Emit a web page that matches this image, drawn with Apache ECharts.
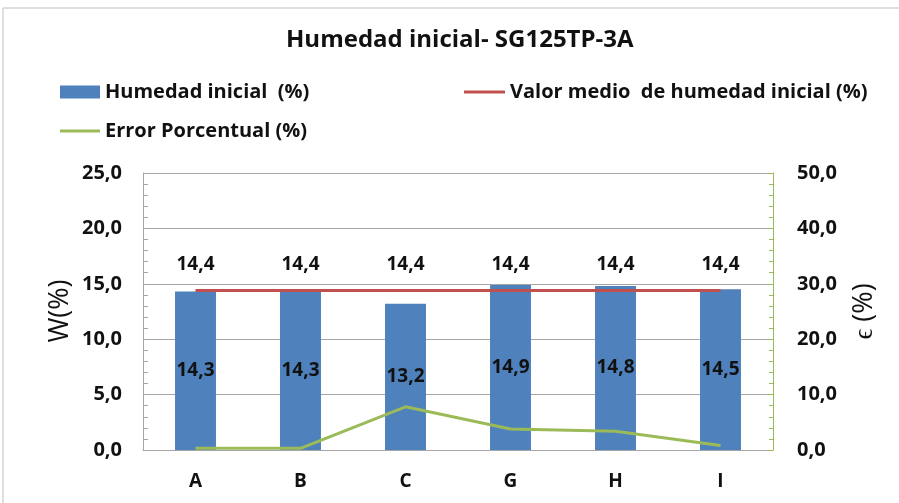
<!DOCTYPE html>
<html>
<head>
<meta charset="utf-8">
<script src="https://cdn.jsdelivr.net/npm/echarts@6/dist/echarts.min.js"></script>
<style>html,body{margin:0;padding:0;background:#fff}#c{width:899px;height:503px}</style>
</head>
<body>
<div id="c"></div>
<script>
const categories = ['A', 'B', 'C', 'G', 'H', 'I'];
const humedad = [14.3, 14.3, 13.2, 14.9, 14.8, 14.5];
const valorMedio = [14.4, 14.4, 14.4, 14.4, 14.4, 14.4];
const errorPct = [0.3, 0.3, 7.8, 3.8, 3.4, 0.8];
const leftTicks = { min: 0, max: 25, interval: 5 };
const rightTicks = { min: 0, max: 50, interval: 10 };
const leftAxisName = 'W(%)';
const rightAxisName = 'ϵ (%)';

const FONT = 'Open Sans';
const TXT = '#111';
const fmt = v => Number(v).toFixed(1).replace('.', ',');
const legendText = { fontFamily: FONT, fontSize: 20, fontWeight: 'bold', color: TXT, lineHeight: 22 };
const chart = echarts.init(document.getElementById('c'));
chart.setOption({
  backgroundColor: '#fff',
  animation: false,
  title: {
    text: 'Humedad inicial- SG125TP-3A',
    left: 286, top: 26, padding: 0,
    textStyle: { fontFamily: FONT, fontSize: 24, fontWeight: 'bold', color: TXT, lineHeight: 28 }
  },
  graphic: [{
    type: 'polyline', shape: { points: [[3, 503], [3, 8], [899, 8]] },
    style: { stroke: '#bfbfbf', lineWidth: 1, fill: null }
  }, {
    type: 'text', x: 60, y: 311, rotation: Math.PI / 2,
    style: { text: leftAxisName, fontFamily: FONT, fontSize: 27, fill: TXT, align: 'center', verticalAlign: 'middle' }
  }],
  legend: [
    { data: ['Humedad inicial  (%)'], left: 60, top: 81, padding: 0, icon: 'rect', itemWidth: 40, itemHeight: 13,
      textStyle: legendText },
    { data: ['Valor medio  de humedad inicial (%)'], left: 464, top: 81, padding: 0, icon: 'rect', itemWidth: 41, itemHeight: 3,
      textStyle: legendText },
    { data: ['Error Porcentual (%)'], left: 60, top: 120, padding: 0, icon: 'rect', itemWidth: 40, itemHeight: 3,
      textStyle: legendText }
  ],
  grid: { left: 143, right: 126, top: 173, bottom: 53 },
  xAxis: {
    type: 'category', data: categories,
    axisLine: { lineStyle: { color: '#a6a6a6' } },
    axisTick: { show: false },
    axisLabel: { margin: 22, fontFamily: FONT, fontSize: 19, fontWeight: 'bold', color: TXT }
  },
  yAxis: [
    { type: 'value', min: leftTicks.min, max: leftTicks.max, interval: leftTicks.interval,
      axisLine: { show: true, lineStyle: { color: '#a6a6a6' } },
      axisTick: { show: true, inside: true, length: 6, lineStyle: { color: '#a6a6a6' } },
      minorTick: { show: true, splitNumber: 5, length: 5, lineStyle: { color: '#a6a6a6' } },
      splitLine: { lineStyle: { color: '#a6a6a6' } },
      axisLabel: { formatter: fmt, margin: 21, fontFamily: FONT, fontSize: 20, fontWeight: 'bold', color: TXT } },
    { type: 'value', min: rightTicks.min, max: rightTicks.max, interval: rightTicks.interval,
      name: rightAxisName, nameLocation: 'middle', nameGap: 78, nameRotate: 90, nameMoveOverlap: false,
      nameTextStyle: { fontFamily: FONT, fontSize: 27, color: TXT },
      axisLine: { show: true, lineStyle: { color: '#9bbb59' } },
      axisTick: { show: true, inside: true, length: 5, lineStyle: { color: '#9bbb59' } },
      minorTick: { show: true, splitNumber: 5, length: 4, lineStyle: { color: '#9bbb59' } },
      splitLine: { show: false },
      axisLabel: { formatter: fmt, margin: 24, fontFamily: FONT, fontSize: 20, fontWeight: 'bold', color: TXT } }
  ],
  series: [
    { name: 'Humedad inicial  (%)', type: 'bar', data: humedad, yAxisIndex: 0, barWidth: '39%',
      itemStyle: { color: '#4f81bd' },
      label: { show: true, position: 'inside', formatter: p => fmt(p.value),
        fontFamily: FONT, fontSize: 19, fontWeight: 'bold', color: TXT } },
    { name: 'Valor medio  de humedad inicial (%)', type: 'line', data: valorMedio, yAxisIndex: 0,
      symbol: 'circle', symbolSize: 0.1, showSymbol: true, z: 5,
      itemStyle: { color: '#c0504d' }, lineStyle: { color: '#c0504d', width: 3 },
      label: { show: true, position: 'top', distance: 16, formatter: p => fmt(p.value),
        fontFamily: FONT, fontSize: 19, fontWeight: 'bold', color: TXT } },
    { name: 'Error Porcentual (%)', type: 'line', data: errorPct, yAxisIndex: 1,
      symbol: 'none', z: 6,
      itemStyle: { color: '#9bbb59' }, lineStyle: { color: '#9bbb59', width: 3 } }
  ]
});
</script>
</body>
</html>
